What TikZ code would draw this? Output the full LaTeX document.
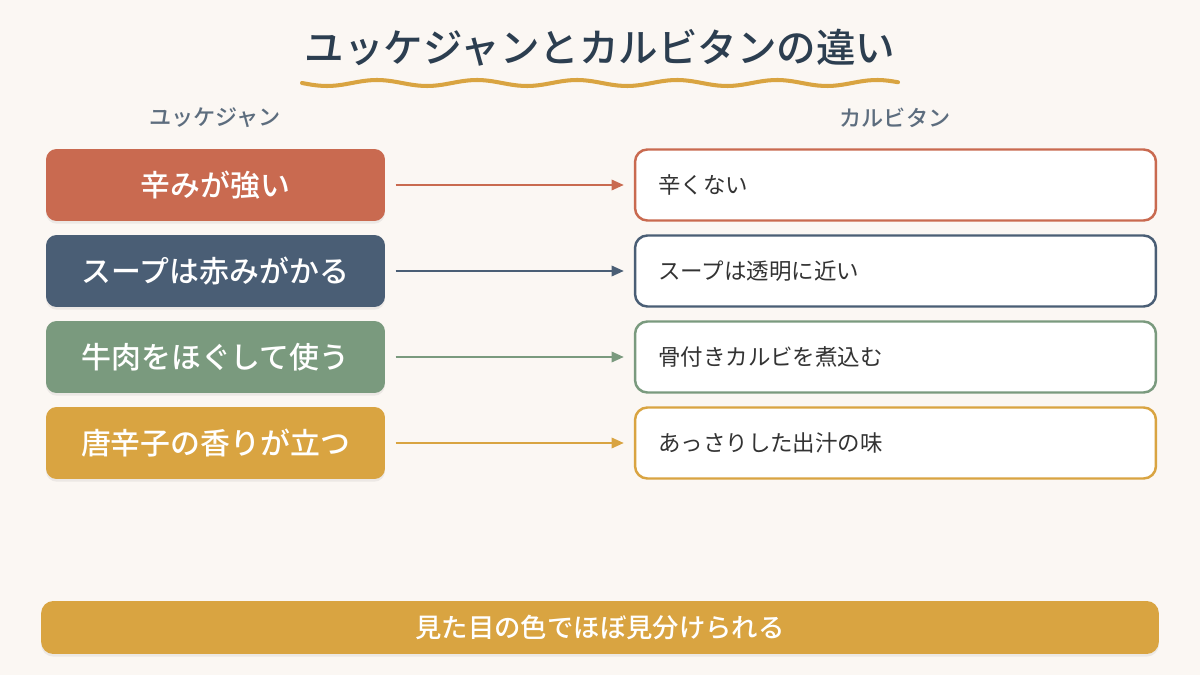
\documentclass[tikz,border=0pt]{standalone}
\usepackage{fontspec}
\setmainfont{Noto Sans CJK JP}[BoldFont={Noto Sans CJK JP Medium}]
\usetikzlibrary{arrows.meta,positioning,shadows}
\definecolor{bgcream}{HTML}{FBF7F3}
\definecolor{titlenavy}{HTML}{2C3E50}
\definecolor{headgray}{HTML}{5D6D7E}
\definecolor{spicered}{HTML}{C96A50}
\definecolor{slateblue}{HTML}{4A5E75}
\definecolor{sagegreen}{HTML}{7A9A7E}
\definecolor{mustard}{HTML}{D9A441}
\definecolor{plaintext}{HTML}{333333}
\tikzset{every picture/.style={line width=0.75pt}}

\begin{document}
\begin{tikzpicture}[
    x=0.02cm, y=-0.02cm,
    yukke/.style={fill=#1,text=white,rounded corners=6pt,minimum width=6.78cm,minimum height=1.44cm,
      font=\fontsize{17}{20}\selectfont\bfseries,inner sep=0pt,
      drop shadow={opacity=0.12,shadow xshift=0pt,shadow yshift=-1.5pt}},
    galbi/.style={draw=#1,line width=1.4pt,fill=white,rounded corners=7pt,minimum height=1.42cm,
      text width=9.5cm,inner xsep=0.46cm,align=left,text=plaintext,font=\fontsize{12.8}{15}\selectfont},
    link/.style={-{Triangle[length=7pt,width=6pt]},line width=1.1pt,draw=#1,shorten <=5.7pt,shorten >=5.7pt},
    header/.style={text=headgray,font=\fontsize{12.6}{15}\selectfont\bfseries}
]
    % Background
    \fill[bgcream] (0,0) rectangle (1200,675);

    % Title
    \node[text=titlenavy,font=\fontsize{22.5}{27}\selectfont\bfseries] (title) at (600,48) {ユッケジャンとカルビタンの違い};
    \draw[mustard,line width=2.3pt,line cap=round] plot[domain=0:596,samples=120] ({302+\x},{83+3*sin(3.6*\x)});

    % Column headers
    \node[header] (headL) at (215,118) {ユッケジャン};
    \node[header] (headR) at (895,118) {カルビタン};

    % Rows
    \node[yukke=spicered]  (l1) at (215.5,185) {辛みが強い};
    \node[yukke=slateblue] (l2) at (215.5,271) {スープは赤みがかる};
    \node[yukke=sagegreen] (l3) at (215.5,357) {牛肉をほぐして使う};
    \node[yukke=mustard]   (l4) at (215.5,443) {唐辛子の香りが立つ};

    \node[galbi=spicered]  (r1) at (895.5,185) {辛くない};
    \node[galbi=slateblue] (r2) at (895.5,271) {スープは透明に近い};
    \node[galbi=sagegreen] (r3) at (895.5,357) {骨付きカルビを煮込む};
    \node[galbi=mustard]   (r4) at (895.5,443) {あっさりした出汁の味};

    \draw[link=spicered]  (l1) -- (r1);
    \draw[link=slateblue] (l2) -- (r2);
    \draw[link=sagegreen] (l3) -- (r3);
    \draw[link=mustard]   (l4) -- (r4);

    % Summary bar
    \node[fill=mustard,text=white,rounded corners=7pt,minimum width=22.36cm,minimum height=1.06cm,inner sep=0pt,
      font=\fontsize{15}{18}\selectfont\bfseries,
      drop shadow={opacity=0.12,shadow xshift=0pt,shadow yshift=-1.5pt}] (summary) at (600,627.5) {見た目の色でほぼ見分けられる};
\end{tikzpicture}
\end{document}
